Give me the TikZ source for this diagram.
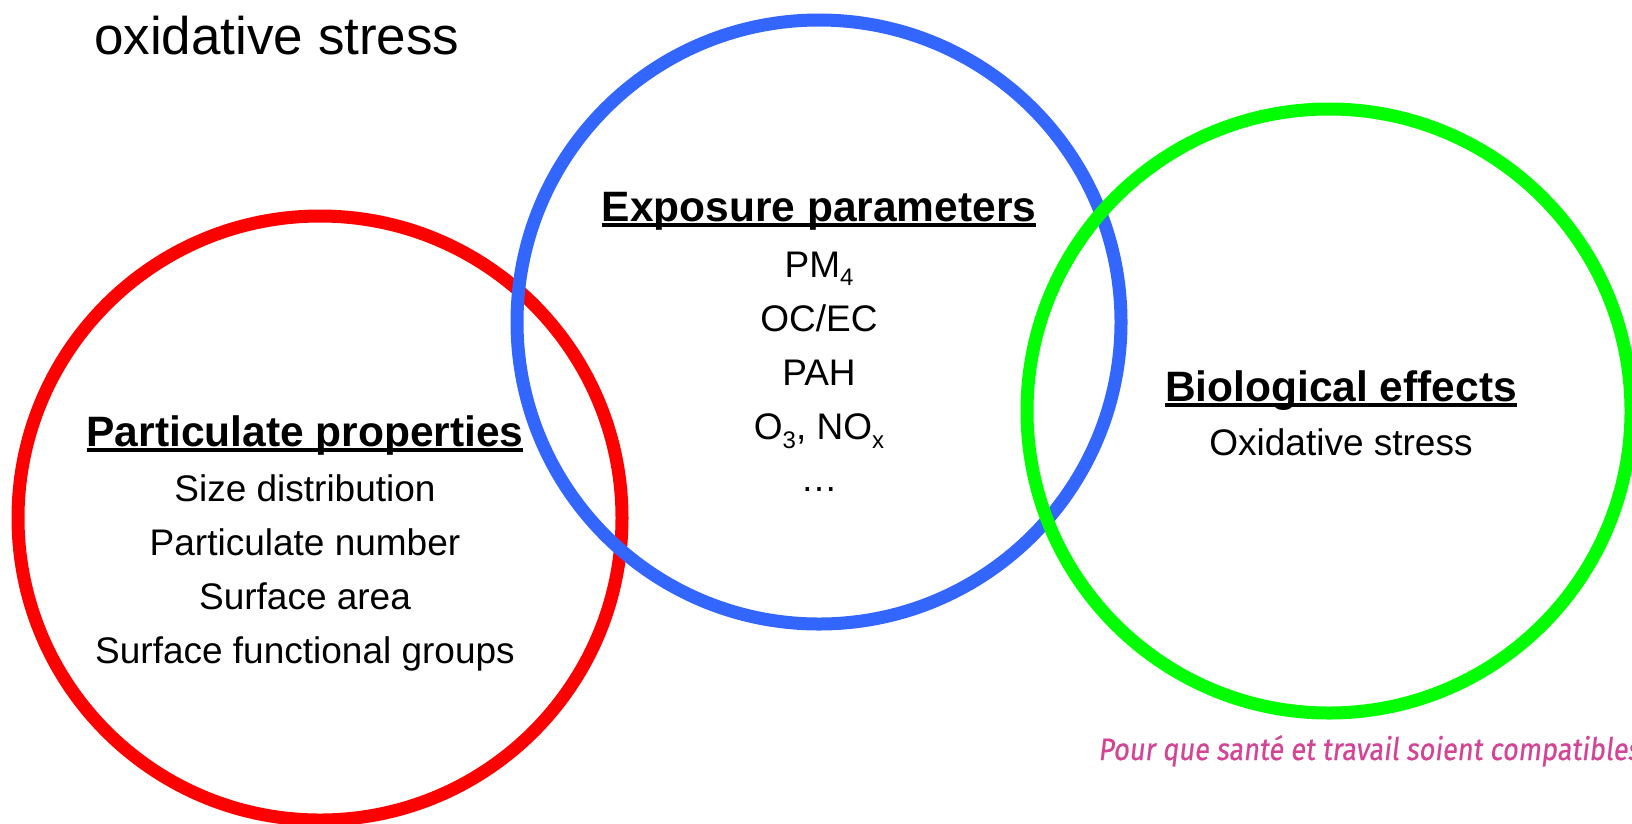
\documentclass[tikz,border=0pt]{standalone}
\usepackage{fontspec}
\setmainfont{Liberation Sans}
\newfontfamily\mottofont[FakeSlant=0.14,FakeBold=0.6]{Fira Sans}
\definecolor{ringred}{RGB}{255,0,0}
\definecolor{ringblue}{RGB}{51,102,255}
\definecolor{ringgreen}{RGB}{0,255,0}
\definecolor{mottopink}{RGB}{212,68,148}
% underline drawn at a fixed depth below the baseline, crossing descenders
\newcommand\headline[1]{\setbox0\hbox{#1}\rlap{\rule[-0.13em]{\wd0}{0.075em}}\box0}
% small lowered index in the text font
\newcommand\lowidx[1]{\raisebox{-0.24em}{\fontsize{24}{24}\selectfont #1}}
\begin{document}
\begin{tikzpicture}[x=1pt,y=-1pt,
  ring/.style={circle,draw=#1,line width=13pt,minimum size=604pt,inner sep=0pt,outer sep=0pt},
  heading/.style={anchor=base,inner sep=0pt,font=\fontsize{42.5}{50}\selectfont\bfseries},
  item/.style={anchor=base,inner sep=0pt,font=\fontsize{37}{44}\selectfont},
]
\useasboundingbox (0,0) rectangle (1632,823);

% title fragment
\node[anchor=base west,inner sep=0pt,font=\fontsize{53}{60}\selectfont] (title) at (94,54) {oxidative stress};

% the three rings, drawn so that each later ring crosses over the earlier one
\node[ring=ringred]   (rred)   at (320,518) {};
\node[ring=ringblue]  (rblue)  at (819,322) {};
\node[ring=ringgreen] (rgreen) at (1329,411) {};

% particulate properties
\node[heading] (pp)  at (305,446) {\headline{Particulate properties}};
\node[item]    (pp1) at (305,501) {Size distribution};
\node[item]    (pp2) at (305,555) {Particulate number};
\node[item]    (pp3) at (305,609) {Surface area};
\node[item]    (pp4) at (305,663.5) {Surface functional groups};

% exposure parameters
\node[heading] (ep)  at (819,221) {\headline{Exposure parameters}};
\node[item]    (ep1) at (819,277) {PM\lowidx{4}};
\node[item]    (ep2) at (819,331.5) {OC/EC};
\node[item]    (ep3) at (819,385.5) {PAH};
\node[item]    (ep4) at (819,439.5) {O\lowidx{3}, NO\lowidx{x}};
\node[item]    (ep5) at (819,491.5) {…};

% biological effects
\node[heading] (be)  at (1341,401) {\headline{Biological effects}};
\node[item]    (be1) at (1341,455) {Oxidative stress};

% motto
\node[anchor=base west,inner sep=0pt,text=mottopink] (motto) at (1098,760)
  {\resizebox{542pt}{\height}{\mottofont\fontsize{31}{36}\selectfont Pour que santé et travail soient compatibles}};
\end{tikzpicture}
\end{document}
